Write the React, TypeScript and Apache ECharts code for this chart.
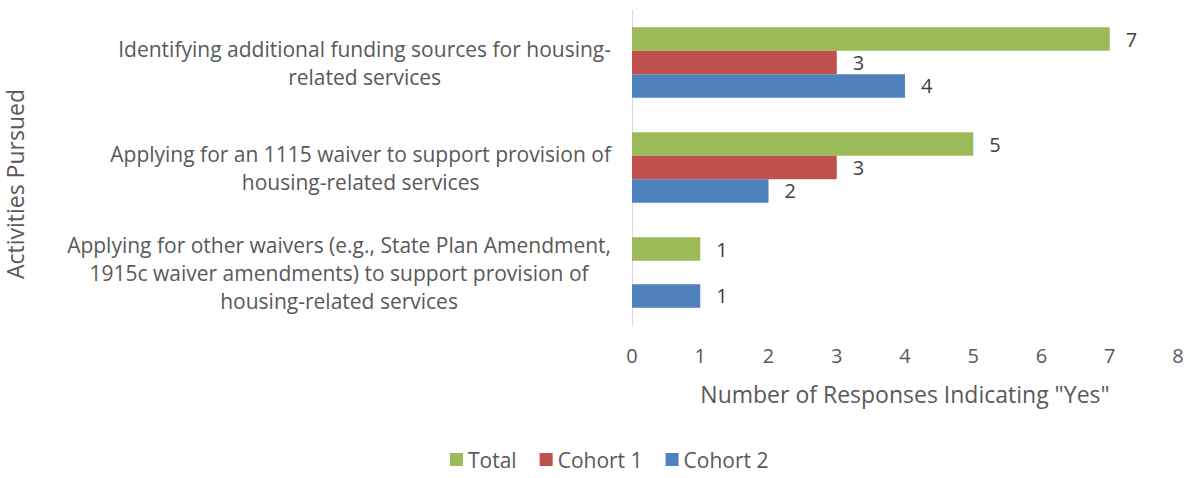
import React, { useEffect, useRef } from "react";
import * as echarts from "echarts";

const categories = [
  "Identifying additional funding sources for housing-\nrelated services",
  "Applying for an 1115 waiver to support provision of\nhousing-related services",
  "Applying for other waivers (e.g., State Plan Amendment,\n1915c waiver amendments) to support provision of\nhousing-related services",
];
const totalValues = [7, 5, 1];
const cohort1Values = [3, 3, null];
const cohort2Values = [4, 2, 1];
const seriesNames = ["Total", "Cohort 1", "Cohort 2"];
const seriesColors = ["#9BBB59", "#C0504D", "#4F81BD"];

const FONT = "'Open Sans', sans-serif";

export default function App() {
  const ref = useRef<HTMLDivElement>(null);
  useEffect(() => {
    if (!ref.current) return;
    const chart = echarts.init(ref.current, undefined, { renderer: "svg" });
    const values = [totalValues, cohort1Values, cohort2Values];
    chart.setOption({
      animation: false,
      textStyle: { fontFamily: FONT },
      grid: { left: 632, right: 11, top: 10, bottom: 153, containLabel: false },
      legend: {
        data: seriesNames,
        bottom: 3,
        left: 445,
        itemWidth: 13,
        itemHeight: 13,
        itemGap: 23,
        icon: "rect",
        textStyle: { fontFamily: FONT, fontSize: 21, color: "#595959" },
      },
      xAxis: {
        type: "value",
        min: 0,
        max: 8,
        interval: 1,
        splitLine: { show: false },
        axisLine: { show: false },
        axisTick: { show: false },
        axisLabel: { color: "#595959", fontSize: 20, margin: 20, fontFamily: FONT },
        name: 'Number of Responses Indicating "Yes"',
        nameLocation: "middle",
        nameGap: 57,
        nameTextStyle: { color: "#595959", fontSize: 23, fontFamily: FONT },
      },
      yAxis: {
        type: "category",
        data: categories,
        inverse: true,
        axisLine: { show: true, lineStyle: { color: "#D9D9D9", width: 1 } },
        axisTick: { show: false },
        axisLabel: {
          color: "#595959",
          fontSize: 21,
          fontFamily: FONT,
          margin: 21,
          lineHeight: 28,
          formatter: (v: string) =>
            v
              .split("\n")
              .map((l) => `{c|${l}}`)
              .join("\n"),
          rich: {
            c: { align: "center", color: "#595959", fontSize: 21, fontFamily: FONT, lineHeight: 28 },
          },
        },
      },
      graphic: [
        {
          type: "text",
          left: 3,
          top: 89,
          rotation: Math.PI / 2,
          style: {
            text: "Activities Pursued",
            fill: "#595959",
            fontSize: 23,
            fontFamily: FONT,
          },
        },
      ],
      series: values.map((d, i) => ({
        name: seriesNames[i],
        type: "bar",
        data: d,
        barGap: "0%",
        barCategoryGap: "33%",
        itemStyle: { color: seriesColors[i] },
        label: {
          show: true,
          position: "right",
          distance: 16,
          color: "#404040",
          fontSize: 20,
          fontFamily: FONT,
        },
      })),
    });
    return () => chart.dispose();
  }, []);
  return (
    <div
      ref={ref}
      style={{ position: "absolute", left: 0, top: 0, width: 1189, height: 478, background: "#fff" }}
    />
  );
}
